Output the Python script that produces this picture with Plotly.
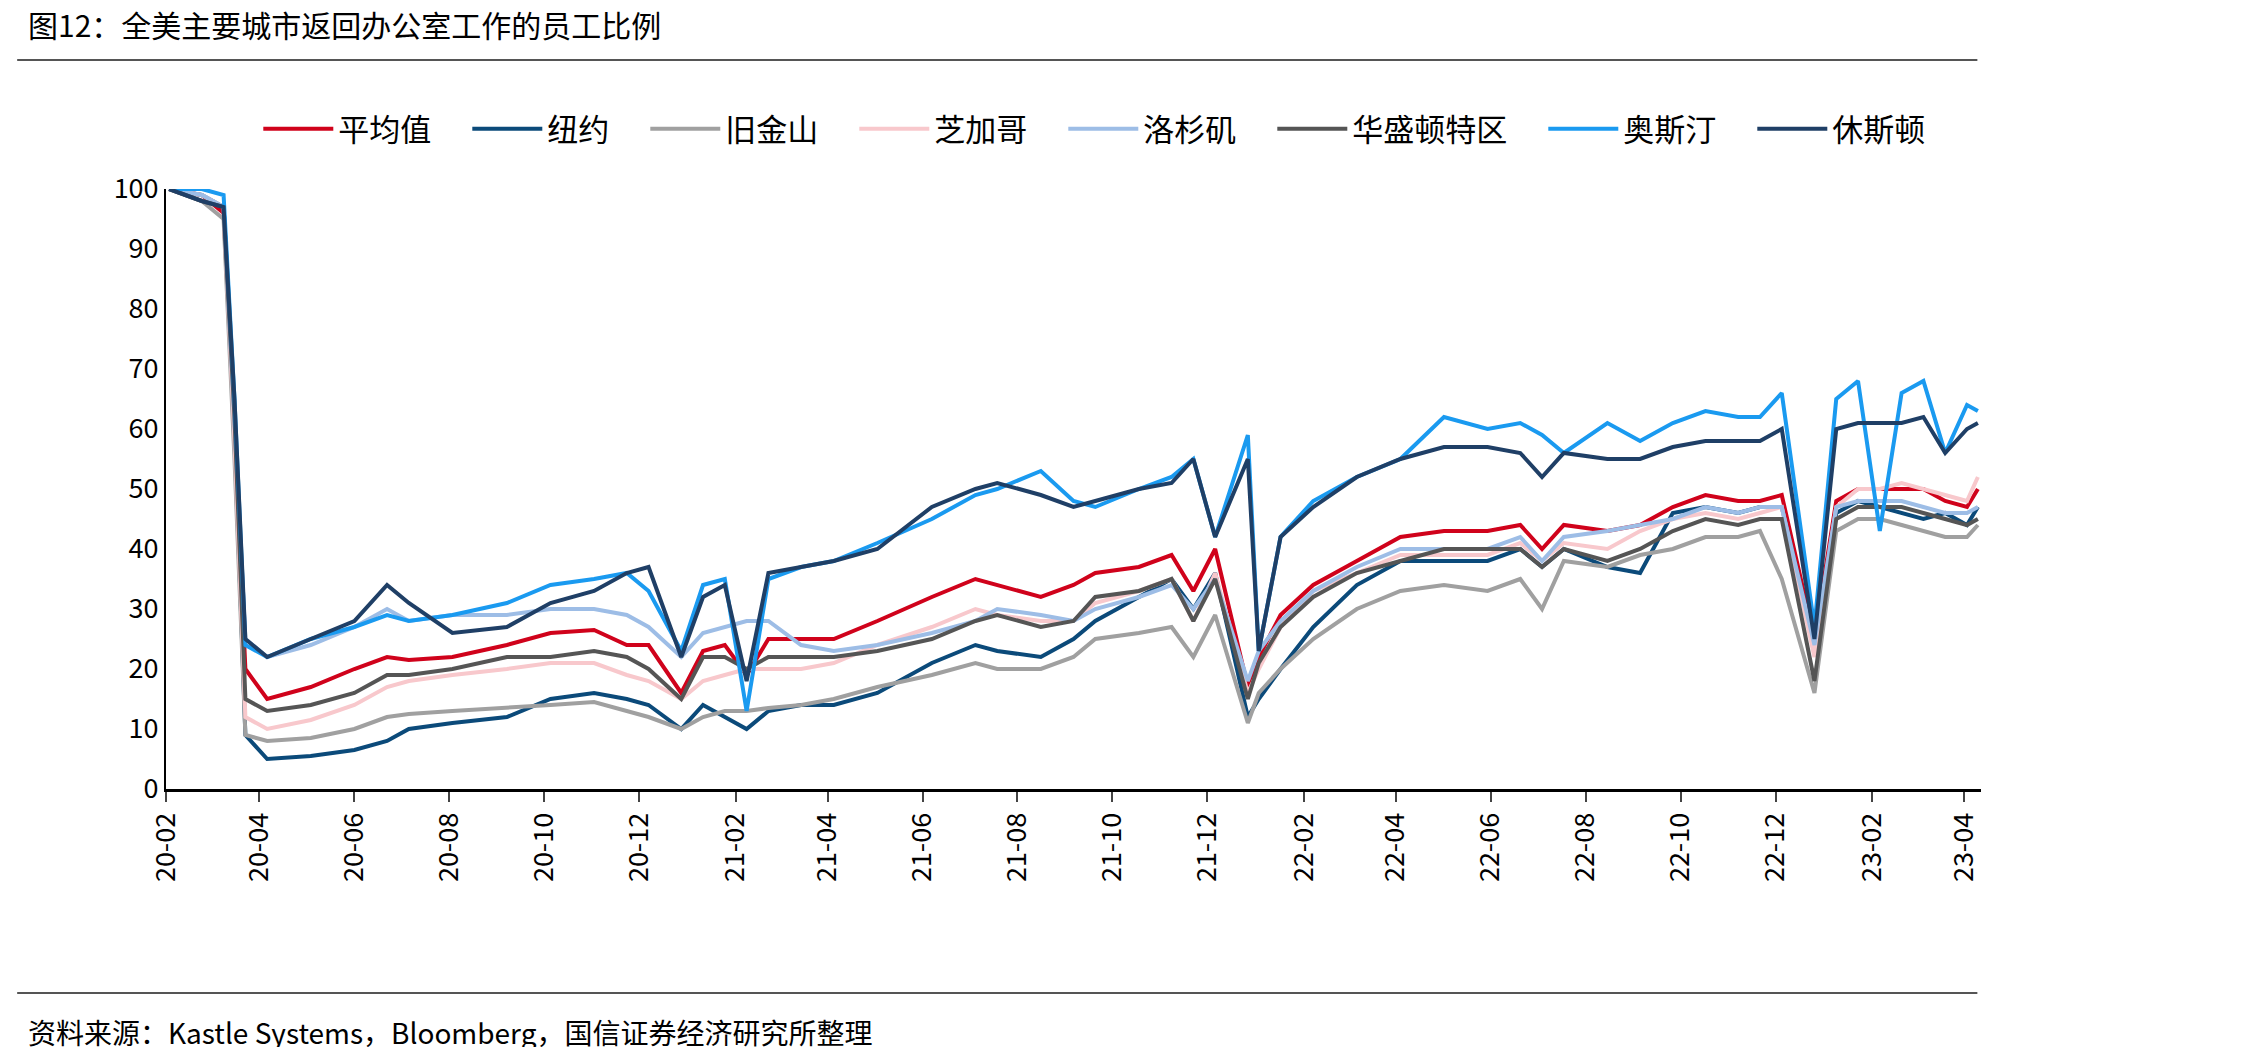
import plotly.graph_objects as go

dates = ["2020-02-03", "2020-02-24", "2020-03-09", "2020-03-16", "2020-03-23", "2020-04-06", "2020-05-04",
         "2020-06-01", "2020-06-22", "2020-07-06", "2020-08-03", "2020-09-07", "2020-10-05", "2020-11-02",
         "2020-11-23", "2020-12-07", "2020-12-28", "2021-01-11", "2021-01-25", "2021-02-08", "2021-02-22",
         "2021-03-15", "2021-04-05", "2021-05-03", "2021-06-07", "2021-07-05", "2021-07-19", "2021-08-16",
         "2021-09-06", "2021-09-20", "2021-10-18", "2021-11-08", "2021-11-22", "2021-12-06", "2021-12-27",
         "2022-01-03", "2022-01-17", "2022-02-07", "2022-03-07", "2022-04-04", "2022-05-02", "2022-05-30",
         "2022-06-20", "2022-07-04", "2022-07-18", "2022-08-15", "2022-09-05", "2022-09-26", "2022-10-17",
         "2022-11-07", "2022-11-21", "2022-12-05", "2022-12-26", "2023-01-09", "2023-01-23", "2023-02-06",
         "2023-02-20", "2023-03-06", "2023-03-20", "2023-04-03", "2023-04-10"]

avg = [100, 99, 96, 60, 20, 15, 17, 20, 22, 21.5, 22, 24, 26, 26.5, 24, 24, 16, 23, 24, 19, 25,
       25, 25, 28, 32, 35, 34, 32, 34, 36, 37, 39, 33, 40, 17, 22, 29, 34, 38, 42, 43, 43, 44, 40,
       44, 43, 44, 47, 49, 48, 48, 49, 25, 48, 50, 50, 50, 50, 48, 47, 50]
new_york = [100, 99, 97, 60, 9, 5, 5.5, 6.5, 8, 10, 11, 12, 15, 16, 15, 14, 10, 14, 12, 10, 13,
            14, 14, 16, 21, 24, 23, 22, 25, 28, 32, 35, 30, 36, 12, 15, 20, 27, 34, 38, 38, 38, 40, 37,
            40, 37, 36, 46, 47, 46, 47, 47, 24, 46, 48, 47, 46, 45, 46, 44, 47]
san_francisco = [100, 98, 95, 55, 9, 8, 8.5, 10, 12, 12.5, 13, 13.5, 14, 14.5, 13, 12, 10, 12, 13, 13, 13.5,
                 14, 15, 17, 19, 21, 20, 20, 22, 25, 26, 27, 22, 29, 11, 16, 20, 25, 30, 33, 34, 33, 35, 30,
                 38, 37, 39, 40, 42, 42, 43, 35, 16, 43, 45, 45, 44, 43, 42, 42, 44]
chicago = [100, 99, 97, 58, 12, 10, 11.5, 14, 17, 18, 19, 20, 21, 21, 19, 18, 15, 18, 19, 20, 20,
           20, 21, 24, 27, 30, 29, 28, 28, 31, 33, 35, 28, 36, 16, 20, 27, 33, 36, 39, 39, 39, 41, 38,
           41, 40, 43, 45, 46, 45, 46, 47, 22, 47, 50, 50, 51, 50, 49, 48, 52]
los_angeles = [100, 99, 97, 62, 25, 22, 24, 27, 30, 28, 29, 29, 30, 30, 29, 27, 22, 26, 27, 28, 28,
               24, 23, 24, 26, 28, 30, 29, 28, 30, 32, 34, 30, 35, 18, 23, 28, 33, 37, 40, 40, 40, 42, 38,
               42, 43, 44, 45, 47, 46, 47, 47, 24, 47, 48, 48, 48, 47, 46, 46, 47]
washington = [100, 98, 97, 62, 15, 13, 14, 16, 19, 19, 20, 22, 22, 23, 22, 20, 15, 22, 22, 20, 22,
              22, 22, 23, 25, 28, 29, 27, 28, 32, 33, 35, 28, 35, 15, 21, 27, 32, 36, 38, 40, 40, 40, 37,
              40, 38, 40, 43, 45, 44, 45, 45, 18, 45, 47, 47, 47, 46, 45, 44, 45]
austin = [100, 100, 99, 65, 24, 22, 25, 27, 29, 28, 29, 31, 34, 35, 36, 33, 23, 34, 35, 13, 35,
          37, 38, 41, 45, 49, 50, 53, 48, 47, 50, 52, 55, 42, 59, 23, 42, 48, 52, 55, 62, 60, 61, 59,
          56, 61, 58, 61, 63, 62, 62, 66, 27, 65, 68, 43, 66, 68, 56, 64, 63]
houston = [100, 98, 97, 65, 25, 22, 25, 28, 34, 31, 26, 27, 31, 33, 36, 37, 22, 32, 34, 18, 36,
           37, 38, 40, 47, 50, 51, 49, 47, 48, 50, 51, 55, 42, 55, 23, 42, 47, 52, 55, 57, 57, 56, 52,
           56, 55, 55, 57, 58, 58, 58, 60, 25, 60, 61, 61, 61, 62, 56, 60, 61]

names = ["平均值", "纽约", "旧金山", "芝加哥", "洛杉矶", "华盛顿特区", "奥斯汀", "休斯顿"]
series = [avg, new_york, san_francisco, chicago, los_angeles, washington, austin, houston]
colors = ["#d0021b", "#0b4a7a", "#a0a0a0", "#f8c8cc", "#9dbde6", "#555555", "#1a9af0", "#1f3f66"]

tick_vals = ["2020-02-01", "2020-04-01", "2020-06-01", "2020-08-01", "2020-10-01", "2020-12-01",
             "2021-02-01", "2021-04-01", "2021-06-01", "2021-08-01", "2021-10-01", "2021-12-01",
             "2022-02-01", "2022-04-01", "2022-06-01", "2022-08-01", "2022-10-01", "2022-12-01",
             "2023-02-01", "2023-04-01"]
tick_text = ["20-02", "20-04", "20-06", "20-08", "20-10", "20-12", "21-02", "21-04", "21-06", "21-08",
             "21-10", "21-12", "22-02", "22-04", "22-06", "22-08", "22-10", "22-12", "23-02", "23-04"]

font = "Noto Sans CJK SC"
fig = go.Figure()
for name, ys, c in zip(names, series, colors):
    fig.add_trace(go.Scatter(x=dates, y=ys, name=name + "\u2003", mode="lines", line=dict(color=c, width=4)))

fig.update_layout(
    width=2243, height=1047, plot_bgcolor="white", paper_bgcolor="white",
    margin=dict(l=158, r=270, t=181, b=266),
    font=dict(family=font, size=27, color="black"),
    legend=dict(orientation="h", x=0.52, xanchor="center", y=1.1, yanchor="middle",
                font=dict(size=31), itemwidth=70, tracegroupgap=0),
    xaxis=dict(range=["2020-02-01", "2023-04-12"], tickvals=tick_vals, ticktext=tick_text,
               tickangle=-90, showline=True, linecolor="black", linewidth=3, ticks="outside",
               ticklen=10, tickwidth=2, showgrid=False, zeroline=False),
    yaxis=dict(range=[0, 100], dtick=10, showline=True, linecolor="black", linewidth=2,
               ticks="", showgrid=False, zeroline=False),
)
fig.add_annotation(text="图12：全美主要城市返回办公室工作的员工比例", xref="paper", yref="paper",
                   x=-0.077, y=1.275, xanchor="left", yanchor="middle", showarrow=False,
                   font=dict(size=30))
fig.add_shape(type="line", xref="paper", yref="paper", x0=-0.082, x1=0.998, y0=1.215, y1=1.215,
              line=dict(color="#555555", width=2))
fig.add_shape(type="line", xref="paper", yref="paper", x0=-0.082, x1=0.998, y0=-0.34, y1=-0.34,
              line=dict(color="#555555", width=2))
fig.add_annotation(text="资料来源：Kastle Systems，Bloomberg，国信证券经济研究所整理", xref="paper", yref="paper",
                   x=-0.077, y=-0.405, xanchor="left", yanchor="middle", showarrow=False,
                   font=dict(size=28))
fig.write_html("out.html")
